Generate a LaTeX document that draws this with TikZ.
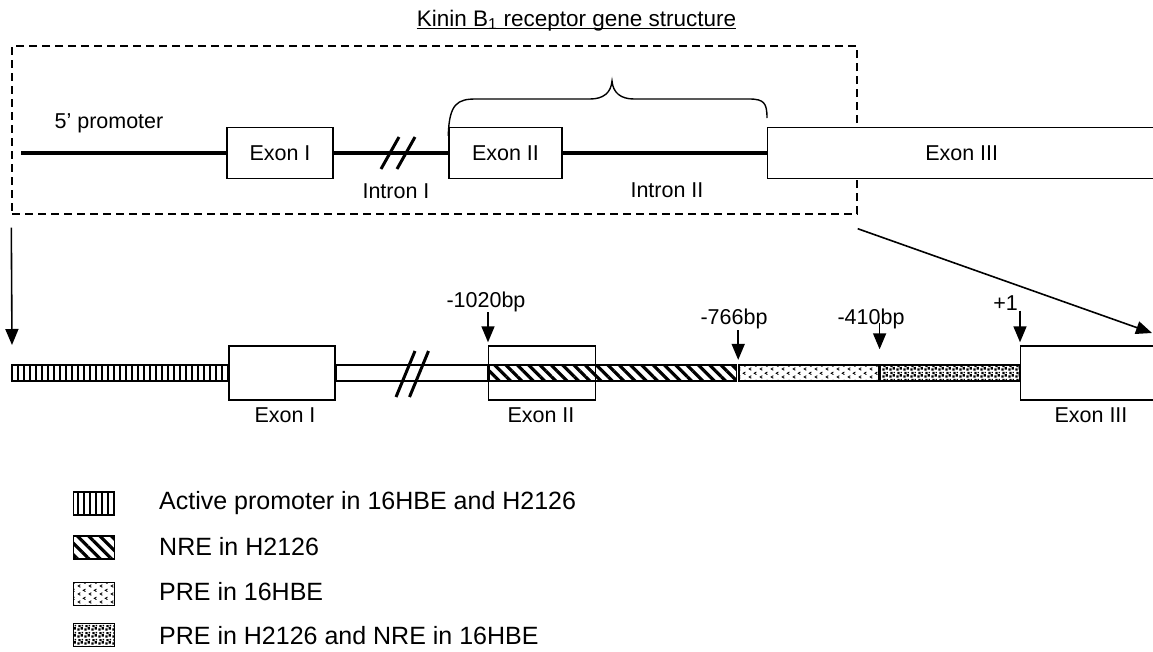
\documentclass[tikz,border=0pt]{standalone}
\usepackage{fontspec}
\setmainfont{Liberation Sans}
\usetikzlibrary{arrows.meta,patterns.meta}

\tikzdeclarepattern{
  name=chevrons,
  type=uncolored,
  bounding box={(0pt,0pt) and (11pt,8pt)},
  tile size={(11pt,8pt)},
  code={
    \draw[line width=0.9pt] (3.6pt,3.6pt) -- (1.2pt,2.2pt) -- (3.6pt,0.8pt);
    \draw[line width=0.9pt] (9.1pt,7.6pt) -- (6.7pt,6.2pt) -- (9.1pt,4.8pt);
  }
}
\tikzdeclarepattern{
  name=densedots,
  type=uncolored,
  bounding box={(0pt,0pt) and (7pt,7pt)},
  tile size={(7pt,7pt)},
  code={
    \fill (0.3pt,0.3pt) rectangle ++(2.6pt,2.6pt);
    \fill (4.0pt,1.6pt) rectangle ++(2.6pt,2.6pt);
    \fill (1.6pt,4.2pt) rectangle ++(2.4pt,2.4pt);
    \fill (5.2pt,5.2pt) rectangle ++(1.6pt,1.6pt);
  }
}

\begin{document}
\begin{tikzpicture}[x=1pt,y=1pt,
  lblfont/.style={font=\fontsize{21.5}{24}\selectfont},
  lbl/.style={lblfont, inner sep=0},
  legtext/.style={font=\fontsize{25}{28}\selectfont, inner sep=0, anchor=west},
  exonbox/.style={draw, line width=1.4pt, fill=white, inner sep=0, lblfont, minimum height=51},
  lowbox/.style={draw, line width=1.4pt, inner sep=0, minimum height=54, anchor=west},
  strip/.style={draw, line width=1.4pt, inner sep=0, minimum height=16, anchor=west},
  gene/.style={line width=3.5pt},
  brk/.style={line width=3pt},
  arr/.style={line width=1.6pt, -{Triangle[width=13pt,length=16pt]}},
  framebox/.style={draw, line width=1.4pt, dash pattern=on 8pt off 5pt, inner sep=0},
  pVert/.style={pattern={Lines[angle=90,distance=6pt,line width=1.2pt]}},
  pNRE/.style={pattern={Lines[angle=-45,distance=8pt,line width=3.2pt]}},
  pPRE/.style={pattern=chevrons},
  pDense/.style={pattern=densedots},
  legicon/.style={draw, line width=1.4pt, inner sep=0, minimum width=41, minimum height=23}
]
\clip (0,0) rectangle (1153,-651);
\fill[white] (0,0) rectangle (1153,-651);

% title
\node[inner sep=0, anchor=base, font=\fontsize{22.5}{26}\selectfont] (title) at (576.5,-26)
  {Kinin B\textsubscript{1} receptor gene structure};
\draw[line width=1pt] ([yshift=-2.5pt]title.base west) -- ([yshift=-2.5pt]title.base east);

% dashed frame
\node[framebox, minimum width=845, minimum height=168] (frame) at (434.5,-130) {};

% top gene structure
\coordinate (p5) at (21,-153);
\node[exonbox, minimum width=106] (e1) at (280,-153) {Exon I};
\node[exonbox, minimum width=113] (e2) at (505.5,-153) {Exon II};
\node[exonbox, minimum width=388, anchor=west] (e3) at (767,-153) {Exon III};
\draw[gene] (p5) -- (e1.west);
\draw[gene] (e1.east) -- (e2.west);
\draw[gene] (e2.east) -- (e3.west);
\draw[brk] (381,-169) -- (399,-137);
\draw[brk] (397,-169) -- (415,-137);
\node[lbl] (prom5) at (109,-123) {5' promoter};
\node[lbl] (in1) at (396,-191) {Intron I};
\node[lbl] (in2) at (667,-190) {Intron II};
\draw[line width=1.4pt] (e2.north west) ++(0,-9)
  .. controls (449,-103) and (458,-99) .. (476,-99) -- (590,-99)
  .. controls (603,-99) and (611,-93) .. (612,-81)
  .. controls (613,-93) and (621,-99) .. (634,-99) -- (749,-99)
  .. controls (764,-99) and (767,-103) .. (767,-118);

% zoom arrows
\coordinate (z1s) at ([yshift=-13pt]frame.south west);
\coordinate (z1e) at (12,-345);
\coordinate (z2s) at ([yshift=-14pt]frame.south east);
\coordinate (z2e) at (1152,-333);
\draw[arr] (z1s) -- (z1e);
\draw[arr] (z2s) -- (z2e);

% bottom row
\node[strip, pVert, minimum width=216] (prom) at (11,-373) {};
\node[lowbox, fill=white, minimum width=106] (e1b) at (prom.east) {};
\node[strip, fill=white, minimum width=151] (intr) at (e1b.east) {};
\node[strip, pNRE, minimum width=247] (nre) at (intr.east) {};
\node[lowbox, minimum width=107] (e2b) at (intr.east) {};
\node[strip, pPRE, minimum width=140] (pre) at (nre.east) {};
\node[strip, pDense, minimum width=139] (dense) at (pre.east) {};
\node[lowbox, fill=white, minimum width=162] (e3b) at (dense.east) {};
\draw[brk] (396,-397) -- (415,-351);
\draw[brk] (409.5,-397) -- (428.5,-351);
\node[lbl] (l1) at (285,-415) {Exon I};
\node[lbl] (l2) at (541,-415) {Exon II};
\node[lbl] (l3) at (1091,-415) {Exon III};

% position markers
\node[lbl] (m1020) at (486,-302) {-1020bp};
\node[lbl] (m766) at (734,-319) {-766bp};
\node[lbl] (m410) at (871,-319) {-410bp};
\node[lbl] (mp1) at (1005.5,-303) {+1};
\draw[arr, shorten >=3pt] (m1020.south -| e2b.north west) -- (e2b.north west);
\draw[arr, shorten >=3.5pt] ([yshift=-1pt]m766.south -| nre.north east) -- (nre.north east);
\coordinate (a410) at (pre.north east |- 0,-323);
\draw[arr, shorten >=15pt] (a410) -- (pre.north east);
\draw[arr, shorten >=3pt] (mp1.south -| e3b.north west) -- (e3b.north west);

% legend
\node[legicon, pVert] (k1) at (94,-503.5) {};
\node[legicon, pNRE] (k2) at (94,-547.5) {};
\node[legicon, pPRE] (k3) at (94,-594) {};
\node[legicon, pDense] (k4) at (94,-635) {};
\node[legtext] (t1) at (159,-503) {Active promoter in 16HBE and H2126};
\node[legtext] (t2) at (159,-547) {NRE in H2126};
\node[legtext] (t3) at (159,-592) {PRE in 16HBE};
\node[legtext] (t4) at (159,-636) {PRE in H2126 and NRE in 16HBE};
\end{tikzpicture}
\end{document}
